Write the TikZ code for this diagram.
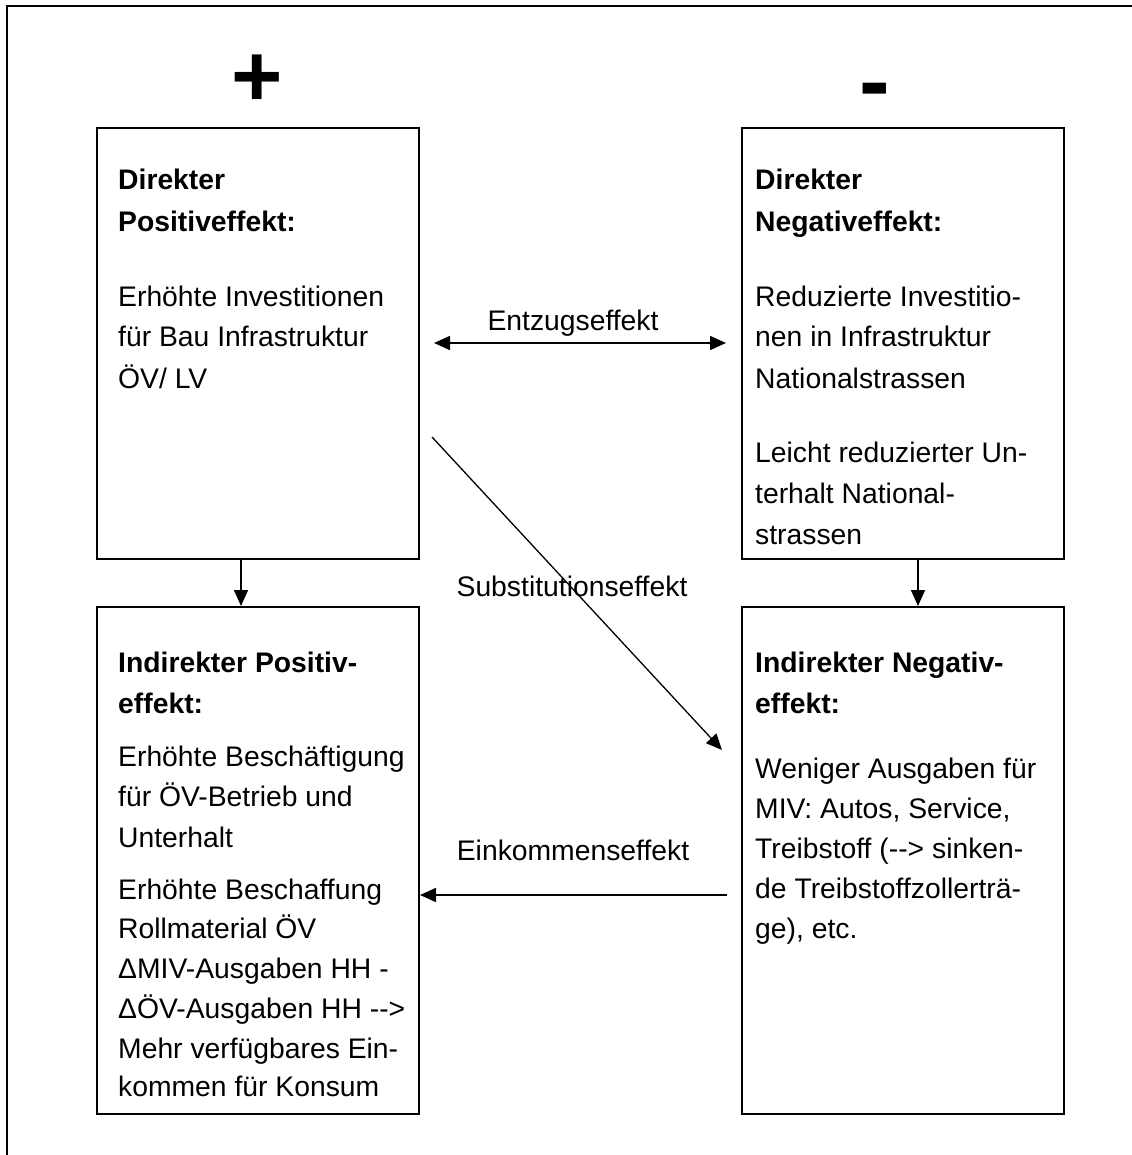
\documentclass[tikz,border=0pt]{standalone}
\usepackage{fontspec}
\setmainfont{Liberation Sans}
\usetikzlibrary{arrows.meta}
\begin{document}
\begin{tikzpicture}[x=1pt,y=-1pt,
  box/.style={draw,line width=2pt},
  ln/.style={anchor=base west,inner sep=0pt,font=\fontsize{28.3}{34}\selectfont},
  lbl/.style={inner sep=0pt,font=\fontsize{28.3}{34}\selectfont},
  tip/.style={-{Triangle[length=16pt,width=14pt]}},
  arr/.style={line width=1.6pt,tip},
  darr/.style={line width=1.6pt,{Triangle[length=16pt,width=14pt]}-{Triangle[length=16pt,width=14pt]}}]
\useasboundingbox (0,0) rectangle (1131,1155);
% frame (top and left only)
\draw[line width=2pt] (7,1160) -- (7,6) -- (1136,6);
% signs
\node[inner sep=0pt,font=\fontsize{88}{88}\bfseries\selectfont] (plus) at (257,81) {+};
\node[inner sep=0pt,font=\fontsize{92}{92}\bfseries\selectfont] (minus) at (875,98) {-};
% boxes
\node[box,minimum width=322pt,minimum height=431pt,inner sep=0pt,anchor=north west] (tl) at (96,127) {};
\node[box,minimum width=322pt,minimum height=431pt,inner sep=0pt,anchor=north west] (tr) at (741,127) {};
\node[box,minimum width=322pt,minimum height=507pt,inner sep=0pt,anchor=north west] (bl) at (96,606) {};
\node[box,minimum width=322pt,minimum height=507pt,inner sep=0pt,anchor=north west] (br) at (741,606) {};
% texts top left
\foreach \y/\t [count=\i] in {190/{\bfseries Direkter},232/{\bfseries Positiveffekt:},306/{Erhöhte Investitionen},346/{für Bau Infrastruktur},388/{ÖV/ LV}}
  \node[ln] (tlt\i) at (118,\y) {\t};
% texts top right
\foreach \y/\t [count=\i] in {190/{\bfseries Direkter},232/{\bfseries Negativeffekt:},306/{Reduzierte Investitio-},346/{nen in Infrastruktur},388/{Nationalstrassen},462/{Leicht reduzierter Un-},503/{terhalt National-},544/{strassen}}
  \node[ln] (trt\i) at (755,\y) {\t};
% texts bottom left
\foreach \y/\t [count=\i] in {672/{\bfseries Indirekter Positiv-},713/{\bfseries effekt:},766/{Erhöhte Beschäftigung},806/{für ÖV-Betrieb und},847/{Unterhalt},899/{Erhöhte Beschaffung},938/{Rollmaterial ÖV},978/{ΔMIV-Ausgaben HH -},1018/{ΔÖV-Ausgaben HH -{}->},1058/{Mehr verfügbares Ein-},1096/{kommen für Konsum}}
  \node[ln] (blt\i) at (118,\y) {\t};
% texts bottom right
\foreach \y/\t [count=\i] in {672/{\bfseries Indirekter Negativ-},713/{\bfseries effekt:},778/{Weniger Ausgaben für},818/{MIV: Autos, Service,},858/{Treibstoff (-{}-> sinken-},898/{de Treibstoffzollerträ-},938/{ge), etc.}}
  \node[ln] (brt\i) at (755,\y) {\t};
% connectors
\coordinate (e1) at (434,343);
\coordinate (e2) at (726,343);
\draw[darr] (e1) -- (e2);
\node[lbl] (entz) at (573,323) {Entzugseffekt};
\draw[arr] (tl.south -| 241,0) -- (bl.north -| 241,0);
\draw[arr] (tr.south -| 918,0) -- (br.north -| 918,0);
\coordinate (s1) at (432,437);
\coordinate (s2) at (722,750);
\draw[line width=1.3pt,tip] (s1) -- (s2);
\node[lbl] (subst) at (572,586) {Substitutionseffekt};
\coordinate (k1) at (727,895);
\draw[arr] (k1) -- (bl.east |- k1);
\node[lbl] (eink) at (573,850) {Einkommenseffekt};
\end{tikzpicture}
\end{document}
